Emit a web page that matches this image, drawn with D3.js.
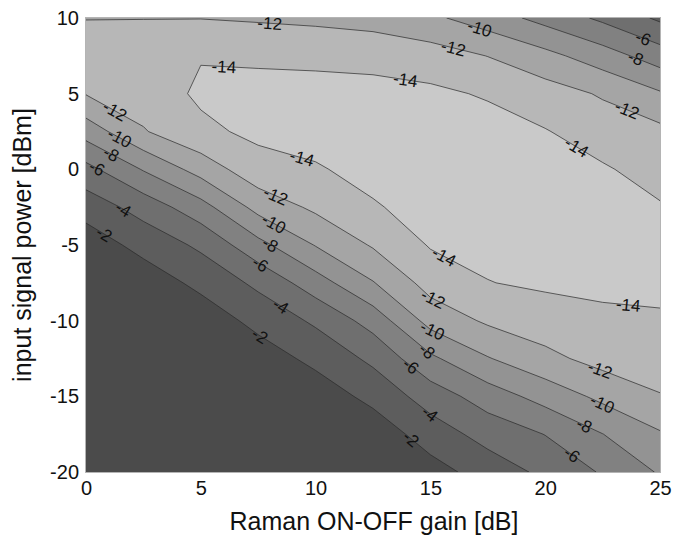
<!DOCTYPE html>
<html>
<head>
<meta charset="utf-8">
<script src="https://cdn.jsdelivr.net/npm/d3@7"></script>
<style>
  body { margin: 0; background: #fff; }
  text { font-family: "Liberation Sans", Arial, sans-serif; }
</style>
</head>
<body>
<svg id="chart" width="673" height="536"></svg>
<script>
// Grid axes of the measurement (dB / dBm)
const gains = [0, 2.5, 5, 7.5, 10, 12.5, 15, 17.5, 20, 22.5, 25];
const powers = [-20, -17.5, -15, -12.5, -10, -7.5, -5, -2.5, 0, 2.5, 5, 7.5, 10];

// Contour levels (dB)
const levels = [-14, -12, -10, -8, -6, -4, -2];

// Tick labels
const gainTicks = [0, 5, 10, 15, 20, 25];
const powerTicks = [-20, -15, -10, -5, 0, 5, 10];

// Measured values, one row per input power (first row = -20 dBm), one column per gain
const gridRows = [
  [  0.00,   0.00,   0.00,   0.00,  -0.10,  -0.40,  -1.20,  -2.87,  -4.45,  -6.20,  -8.20],
  [  0.00,   0.00,   0.00,  -0.10,  -0.30,  -0.76,  -2.95,  -4.75,  -6.05,  -7.97,  -9.80],
  [  0.00,   0.00,  -0.10,  -0.30,  -0.85,  -2.58,  -4.92,  -6.96,  -8.76, -10.49, -11.91],
  [  0.00,  -0.10,  -0.30,  -0.96,  -2.53,  -4.44,  -7.60,  -9.88, -11.47, -12.70, -12.86],
  [  0.00,  -0.30,  -0.78,  -2.61,  -4.33,  -6.80, -10.72, -12.30, -13.08, -13.53, -13.85],
  [ -0.20,  -0.82,  -2.53,  -4.44,  -7.09,  -9.89, -12.79, -13.95, -14.30, -14.50, -14.30],
  [ -0.84,  -2.67,  -4.38,  -7.37, -10.10, -12.20, -14.15, -14.50, -14.70, -14.60, -14.40],
  [ -2.84,  -4.80,  -7.22, -10.68, -12.39, -13.85, -14.60, -14.80, -14.85, -14.50, -14.15],
  [ -5.37,  -8.14, -10.81, -13.30, -13.85, -14.50, -14.80, -14.90, -14.80, -14.20, -13.27],
  [ -8.85, -11.85, -13.60, -14.40, -14.60, -14.70, -14.80, -14.80, -14.10, -13.10, -12.50],
  [-12.10, -13.00, -14.30, -14.60, -14.60, -14.60, -14.40, -13.80, -12.90, -11.79, -10.22],
  [-12.90, -13.30, -13.90, -13.70, -13.60, -13.40, -12.90, -11.96, -10.59,  -8.93,  -6.99],
  [-11.95, -11.95, -11.95, -11.77, -11.55, -11.21, -10.40,  -9.00,  -7.33,  -5.60,  -3.65]
];

// Where each in-line level label sits (gain dB, power dBm)
const labelLevels = [-12, -10, -6, -8, -12, -14, -14, -12, -14,
                     -12, -10, -8, -6, -4, -2,
                     -14, -12, -10, -8, -6, -4, -2,
                     -14, -12, -10, -8, -6, -4, -2,
                     -14, -12, -10, -8, -6];
const labelGains = [8.0, 17.1, 24.2, 23.9, 16.0, 6.0, 13.9, 23.5, 21.3,
                    1.2, 1.4, 1.0, 0.45, 1.6, 0.7,
                    9.3, 8.1, 8.0, 7.9, 7.5, 8.45, 7.45,
                    15.3, 15.1, 15.1, 14.8, 14.1, 15.0, 14.0,
                    23.6, 22.3, 22.3, 21.4, 21.0];
const labelPowers = [9.6, 9.1, 8.4, 7.2, 8.0, 6.6, 5.8, 3.7, 1.3,
                     3.7, 1.9, 0.75, 0.0, -2.7, -4.5,
                     0.2, -2.3, -4.1, -5.3, -6.5, -9.1, -11.3,
                     -6.6, -8.6, -10.6, -12.1, -13.1, -16.1, -18.1,
                     -9.2, -13.6, -16.1, -17.9, -19.2];

const svg = d3.select("#chart");
const x = d3.scaleLinear().domain([0, 25]).range([86, 660]);
const y = d3.scaleLinear().domain([-20, 10]).range([472, 18]);

// Grey ramp: lightest below the lowest level, darkest above -2 dB
const shade = d3.scaleLinear().domain([-16, -2]).range(["#c9c9c9", "#4b4b4b"]);

const nx = gains.length, ny = powers.length;
const values = gridRows.flat();
const dg = gains[1] - gains[0], dp = powers[1] - powers[0];

// d3.contours puts sample i at grid coordinate i + 0.5
const gridToPx = (c, r) => [x(gains[0] + (c - 0.5) * dg), y(powers[0] + (r - 0.5) * dp)];
const proj = d3.geoTransform({
  point(c, r) { const p = gridToPx(c, r); this.stream.point(p[0], p[1]); }
});
const path = d3.geoPath(proj);

const contours = d3.contours().size([nx, ny]).thresholds(levels)(values);

svg.append("defs").append("clipPath").attr("id", "plotClip")
  .append("rect")
  .attr("x", x(0)).attr("y", y(10))
  .attr("width", x(25) - x(0)).attr("height", y(-20) - y(10));

const plot = svg.append("g").attr("clip-path", "url(#plotClip)");

plot.append("rect")
  .attr("x", x(0)).attr("y", y(10))
  .attr("width", x(25) - x(0)).attr("height", y(-20) - y(10))
  .attr("fill", shade(-16));

plot.selectAll("path.band")
  .data(contours)
  .join("path")
  .attr("class", "band")
  .attr("d", path)
  .attr("fill", d => shade(d.value))
  .attr("stroke", "#2a2a2a")
  .attr("stroke-width", 0.7)
  .attr("stroke-linejoin", "round");

// Frame
svg.append("rect")
  .attr("x", x(0) - 0.5).attr("y", y(10) - 0.5)
  .attr("width", x(25) - x(0) + 1).attr("height", y(-20) - y(10) + 1)
  .attr("fill", "none")
  .attr("stroke", "#b4b4b4")
  .attr("stroke-width", 1);

// In-line labels, turned along the local direction of their contour
function placeLabel(level, g, p) {
  const c = contours.find(k => k.value === level);
  const tx = x(g), ty = y(p);
  let best = null;
  c.coordinates.forEach(poly => poly.forEach(ring => {
    const pts = ring.map(q => gridToPx(q[0], q[1]));
    for (let i = 0; i < pts.length - 1; i++) {
      const a = pts[i], b = pts[i + 1];
      const vx = b[0] - a[0], vy = b[1] - a[1];
      const len2 = vx * vx + vy * vy;
      if (len2 === 0) continue;
      let t = ((tx - a[0]) * vx + (ty - a[1]) * vy) / len2;
      t = Math.max(0, Math.min(1, t));
      const px = a[0] + t * vx, py = a[1] + t * vy;
      const d2 = (px - tx) ** 2 + (py - ty) ** 2;
      if (!best || d2 < best.d2) best = { d2, px, py, ang: Math.atan2(vy, vx) * 180 / Math.PI };
    }
  }));
  let ang = best.ang;
  if (ang > 90) ang -= 180;
  if (ang < -90) ang += 180;
  return { x: best.px, y: best.py, ang };
}

const labelData = labelLevels.map((lv, i) => Object.assign({ level: lv }, placeLabel(lv, labelGains[i], labelPowers[i])));

svg.append("g").selectAll("text")
  .data(labelData)
  .join("text")
  .attr("transform", d => `translate(${d.x},${d.y}) rotate(${d.ang})`)
  .attr("text-anchor", "middle")
  .attr("dy", "0.35em")
  .attr("font-size", 17)
  .attr("fill", "#111")
  .text(d => String(d.level));

// Axes
const xAxis = svg.append("g")
  .attr("transform", `translate(0,${y(-20)})`)
  .call(d3.axisBottom(x).tickValues(gainTicks).tickSize(0).tickPadding(9).tickFormat(d => String(d)));
const yAxis = svg.append("g")
  .attr("transform", `translate(${x(0)},0)`)
  .call(d3.axisLeft(y).tickValues(powerTicks).tickSize(0).tickPadding(7).tickFormat(d => String(d)));
[xAxis, yAxis].forEach(a => {
  a.select(".domain").remove();
  a.selectAll("text").attr("font-size", 20).attr("fill", "#111")
    .style("font-family", '"Liberation Sans", Arial, sans-serif');
});

svg.append("text")
  .attr("x", 374).attr("y", 530)
  .attr("text-anchor", "middle")
  .attr("font-size", 25)
  .attr("fill", "#111")
  .text("Raman ON-OFF gain [dB]");

svg.append("text")
  .attr("transform", "translate(31,245) rotate(-90)")
  .attr("text-anchor", "middle")
  .attr("font-size", 25)
  .attr("fill", "#111")
  .text("input signal power [dBm]");
</script>
</body>
</html>
